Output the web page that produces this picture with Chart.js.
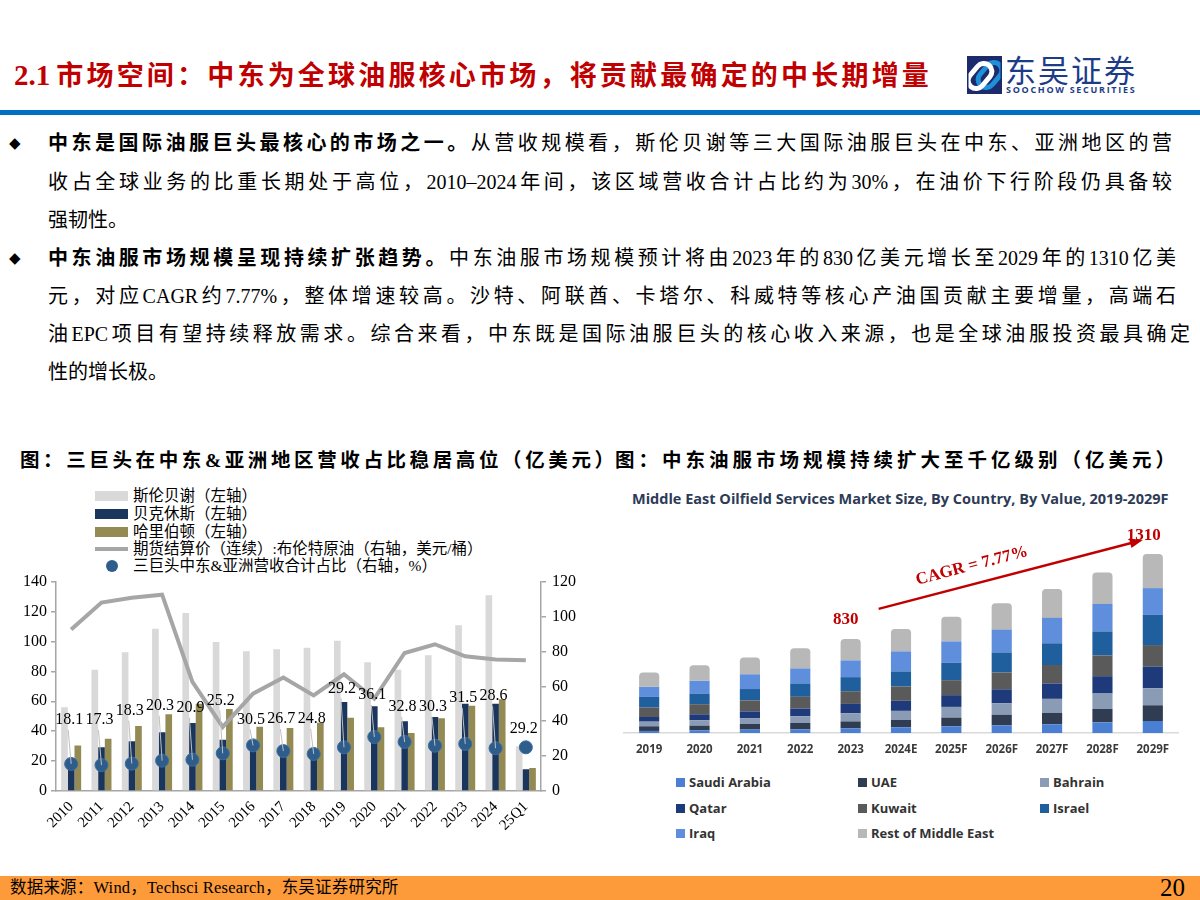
<!DOCTYPE html>
<html><head><meta charset="utf-8">
<script src="https://cdn.jsdelivr.net/npm/chart.js@4.4.1/dist/chart.umd.min.js"></script>
<style>
body{margin:0;width:1200px;height:900px;position:relative;overflow:hidden;background:#fff;font-family:"Liberation Serif","Noto Sans CJK SC",serif;color:#000;}
.abs{position:absolute;}
.title{left:14px;top:55px;color:#c00000;font-weight:bold;font-size:27px;letter-spacing:3.2px;white-space:nowrap;line-height:40px;}
.title .num{font-size:29px;letter-spacing:0;margin-right:6px}
.rule{left:0;top:110px;width:1200px;height:5px;background:#0070c0;}
.ln{position:absolute;left:48px;font-size:20px;line-height:38px;height:38px;overflow:hidden;white-space:nowrap;}
.j{text-align:justify;text-align-last:justify;white-space:normal;}
.b{font-weight:bold}
.dia{position:absolute;left:9px;font-size:15px;line-height:38px;font-family:"DejaVu Sans";}
.cap{position:absolute;top:447px;font-size:19.5px;font-weight:bold;line-height:28px;height:28px;overflow:hidden;text-align:justify;text-align-last:justify;}
.leg{position:absolute;left:95px;font-size:15.5px;line-height:18px;height:18px;white-space:nowrap;}
.leg .sw{position:absolute;left:0;top:4px;width:33px;height:10px;}
.leg .tx{position:absolute;left:38px;top:0;}
.rleg{position:absolute;font-family:"Open Sans",sans-serif;font-weight:bold;font-size:13px;color:#333;white-space:nowrap;line-height:18px}
.rleg .sq{display:inline-block;width:9px;height:9px;margin-right:4px;vertical-align:-0px}
.foot{left:0;top:876px;width:1200px;height:24px;background:#fd9a3a;}
</style></head>
<body>
<div class="abs title"><span class="num">2.1</span>市场空间：中东为全球油服核心市场，将贡献最确定的中长期增量</div>
<svg class="abs" style="left:967px;top:56px" width="35" height="38" viewBox="0 0 35 38">
  <rect x="0" y="0" width="35" height="38" fill="#1b2b6c"/>
  <rect x="15" y="5" width="16" height="28" rx="8" transform="rotate(40 23 19)" stroke="#1e8fd8" stroke-width="5" fill="none"/>
  <rect x="5" y="6" width="16" height="28" rx="8" transform="rotate(40 13 20)" stroke="#ffffff" stroke-width="5" fill="none"/>
  <rect x="0" y="0" width="35" height="38" fill="none" stroke="#1b2b6c" stroke-width="3"/>
</svg>
<div class="abs" style="left:1005px;top:50px;font-family:'Noto Sans CJK SC';font-size:31px;line-height:38px;color:#1d3c88;letter-spacing:2px;white-space:nowrap">东吴证券</div>
<div class="abs" style="left:1006px;top:84px;font-family:'Open Sans';font-weight:bold;font-size:9px;line-height:11px;color:#1d3c88;letter-spacing:1.7px;white-space:nowrap">SOOCHOW SECURITIES</div>
<div class="abs rule"></div>

<div class="dia" style="top:124px">◆</div>
<div class="ln j" style="top:124px;width:1124px"><span class="b">中东是国际油服巨头最核心的市场之一。</span>从营收规模看，斯伦贝谢等三大国际油服巨头在中东、亚洲地区的营</div>
<div class="ln j" style="top:163px;width:1124px">收占全球业务的比重长期处于高位，2010–2024年间，该区域营收合计占比约为30%，在油价下行阶段仍具备较</div>
<div class="ln" style="top:201px">强韧性。</div>
<div class="dia" style="top:239px">◆</div>
<div class="ln j" style="top:239px;width:1128px"><span class="b">中东油服市场规模呈现持续扩张趋势。</span>中东油服市场规模预计将由2023年的830亿美元增长至2029年的1310亿美</div>
<div class="ln j" style="top:277px;width:1128px">元，对应CAGR约7.77%，整体增速较高。沙特、阿联酋、卡塔尔、科威特等核心产油国贡献主要增量，高端石</div>
<div class="ln j" style="top:315px;width:1142px">油EPC项目有望持续释放需求。综合来看，中东既是国际油服巨头的核心收入来源，也是全球油服投资最具确定</div>
<div class="ln" style="top:353px">性的增长极。</div>

<div class="cap" style="left:20px;width:594px">图：三巨头在中东&amp;亚洲地区营收占比稳居高位（亿美元）</div>
<div class="cap" style="left:615px;width:560px">图：中东油服市场规模持续扩大至千亿级别（亿美元）</div>

<div class="leg" style="top:487px"><span class="sw" style="background:#d9d9d9"></span><span class="tx">斯伦贝谢（左轴）</span></div>
<div class="leg" style="top:505px"><span class="sw" style="background:#1b365d"></span><span class="tx">贝克休斯（左轴）</span></div>
<div class="leg" style="top:523px"><span class="sw" style="background:#948a54"></span><span class="tx">哈里伯顿（左轴）</span></div>
<div class="leg" style="top:540px"><span class="sw" style="top:7px;height:4px;background:#a6a6a6"></span><span class="tx">期货结算价（连续）:布伦特原油（右轴，美元/桶）</span></div>
<div class="leg" style="top:557px"><span class="sw" style="left:11px;top:3px;width:12px;height:12px;border-radius:50%;background:#2e5d8c"></span><span class="tx">三巨头中东&amp;亚洲营收合计占比（右轴，%）</span></div>

<div class="abs" style="left:0;top:566px;width:600px;height:276px"><canvas id="c1" width="600" height="276"></canvas></div>

<div class="abs" style="left:632px;top:489px;font-family:'Open Sans',sans-serif;font-weight:bold;font-size:14.5px;color:#2d3b57;white-space:nowrap">Middle East Oilfield Services Market Size, By Country, By Value, 2019-2029F</div>
<div class="abs" style="left:622px;top:510px;width:568px;height:255px"><canvas id="c2" width="568" height="255"></canvas></div>

<div class="rleg" style="left:676px;top:773px"><span class="sq" style="background:#4a7fd4"></span>Saudi Arabia</div>
<div class="rleg" style="left:858px;top:773px"><span class="sq" style="background:#2f3c52"></span>UAE</div>
<div class="rleg" style="left:1040px;top:773px"><span class="sq" style="background:#8a9bb5"></span>Bahrain</div>
<div class="rleg" style="left:676px;top:799px"><span class="sq" style="background:#1f3a7a"></span>Qatar</div>
<div class="rleg" style="left:858px;top:799px"><span class="sq" style="background:#5a5a5a"></span>Kuwait</div>
<div class="rleg" style="left:1040px;top:799px"><span class="sq" style="background:#1f5f9e"></span>Israel</div>
<div class="rleg" style="left:676px;top:824px"><span class="sq" style="background:#5f8fdc"></span>Iraq</div>
<div class="rleg" style="left:858px;top:824px"><span class="sq" style="background:#b8b8b8"></span>Rest of Middle East</div>

<div class="abs foot"></div>
<div class="abs" style="left:10px;top:877px;font-size:16.5px;letter-spacing:0.2px;line-height:22px;white-space:nowrap">数据来源：Wind，Techsci Research，东吴证券研究所</div>
<div class="abs" style="left:1160px;top:873px;font-size:25px;line-height:30px">20</div>

<script>
// ---------- Left chart data ----------
const years = ['2010','2011','2012','2013','2014','2015','2016','2017','2018','2019','2020','2021','2022','2023','2024','25Q1'];
const slb = [56,81,92.7,108.5,119,99.6,93.4,94.7,95.8,100.5,86,81,90.7,110.8,130.8,30];
const bhi = [21,29.3,33.3,39.3,45.5,34.2,31,26,23,59.5,56.6,46.6,49.5,58.4,58.4,14.5];
const hal = [30.5,35,43.5,51.3,58.4,54.8,43,42.1,45.7,49,42.6,38.8,48.6,57,61.3,15.4];
const brent = [92.5,108,110.8,112.5,62.5,36.7,55.8,65,54.8,66.9,52.9,79.1,84.1,77.2,75.3,74.9];
const share = [18.1,17.3,18.3,20.3,20.9,25.2,30.5,26.7,24.8,29.2,36.1,32.8,30.3,31.5,28.6,29.2];
const leftTicks = [0,20,40,60,80,100,120,140];
const rightTicks = [0,20,40,60,80,100,120];
// label lift above each dot (px) - label layout only
const labelLift = [44,45,53,55,52,53,26,32,35,59,42,35,39,46,52,19];

// ---------- Right chart data ----------
const meYears = ['2019','2020','2021','2022','2023','2024E','2025F','2026F','2027F','2028F','2029F'];
const saudi   = [15,20,25,27,34,42,49,56,64,78,88];
const uae     = [34,34,42,47,51,54,64,78,83,98,115];
const bahrain = [34,39,42,49,59,66,78,83,103,113,125];
const qatar   = [34,44,49,56,69,74,86,103,113,127,157];
const kuwait  = [69,74,81,86,93,105,110,123,135,152,159];
const israel  = [78,78,83,98,103,110,127,147,159,176,221];
const iraq    = [74,93,108,110,123,147,157,167,186,201,196];
const rest    = [105,115,123,147,157,164,181,194,211,230,250];
const startLabel = '830', endLabel = '1310', cagrText = 'CAGR = 7.77%';
const startIdx = 4, endIdx = 10;

const serif = '"Liberation Serif","Noto Sans CJK SC",serif';

const dotLabels = {
  id:'dotLabels',
  afterDatasetsDraw(chart){
    const meta = chart.getDatasetMeta(4);
    const ctx = chart.ctx;
    ctx.save();
    ctx.font = '16px ' + serif;
    ctx.textAlign = 'center';
    ctx.textBaseline = 'middle';
    meta.data.forEach((pt,i)=>{
      const lift = labelLift[i];
      const lx = pt.x - 2, ly = pt.y - lift;
      if (lift > 24){
        ctx.strokeStyle = '#bfbfbf';
        ctx.lineWidth = 1;
        ctx.beginPath();
        ctx.moveTo(lx - 1, ly + 10);
        ctx.lineTo(pt.x, pt.y);
        ctx.stroke();
      }
      ctx.fillStyle = '#000';
      ctx.fillText(share[i].toFixed(1), lx, ly);
    });
    ctx.restore();
  }
};

new Chart(document.getElementById('c1'), {
  data:{
    labels: years,
    datasets:[
      {type:'bar', label:'斯伦贝谢（左轴）', data:slb, backgroundColor:'#d9d9d9', yAxisID:'y', order:3, categoryPercentage:0.66, barPercentage:1},
      {type:'bar', label:'贝克休斯（左轴）', data:bhi, backgroundColor:'#1b365d', yAxisID:'y', order:3, categoryPercentage:0.66, barPercentage:1},
      {type:'bar', label:'哈里伯顿（左轴）', data:hal, backgroundColor:'#948a54', yAxisID:'y', order:3, categoryPercentage:0.66, barPercentage:1},
      {type:'line', label:'期货结算价（连续）:布伦特原油（右轴，美元/桶）', data:brent, borderColor:'#a6a6a6', borderWidth:4, pointRadius:0, tension:0, yAxisID:'y1', order:1},
      {type:'line', label:'三巨头中东&亚洲营收合计占比（右轴，%）', data:share, showLine:false, pointRadius:6.5, pointBackgroundColor:'#2e5d8c', pointBorderColor:'#3a6d9e', pointBorderWidth:1, yAxisID:'y', order:0}
    ]
  },
  options:{
    responsive:false, animation:false, devicePixelRatio:1,
    layout:{padding:{top:3,left:0,right:0,bottom:0}},
    plugins:{legend:{display:false}, tooltip:{enabled:false}},
    scales:{
      x:{
        grid:{display:false, drawTicks:false},
        border:{display:true, color:'#a6a6a6', width:1.5},
        ticks:{font:{family:serif,size:15}, color:'#000', minRotation:45, maxRotation:45, padding:7, autoSkip:false},
        afterFit(s){ s.height = 51; }
      },
      y:{
        position:'left', min:0, max:140,
        afterBuildTicks(s){ s.ticks = leftTicks.map(v=>({value:v})); },
        grid:{display:true, drawOnChartArea:false, drawTicks:true, tickLength:5, color:'#a6a6a6', lineWidth:1.5},
        border:{display:true, color:'#a6a6a6', width:1.5},
        ticks:{font:{family:serif,size:16}, color:'#000', padding:4},
        afterFit(s){ s.width = 56; }
      },
      y1:{
        position:'right', min:0, max:120,
        afterBuildTicks(s){ s.ticks = rightTicks.map(v=>({value:v})); },
        grid:{display:true, drawOnChartArea:false, drawTicks:true, tickLength:5, color:'#a6a6a6', lineWidth:1.5},
        border:{display:true, color:'#a6a6a6', width:1.5},
        ticks:{font:{family:serif,size:16}, color:'#000', padding:6},
        afterFit(s){ s.width = 59; }
      }
    }
  },
  plugins:[dotLabels]
});

const annot = {
  id:'annot',
  afterDatasetsDraw(chart){
    const ctx = chart.ctx, xs = chart.scales.x, ys = chart.scales.y;
    const total = i => [saudi,uae,bahrain,qatar,kuwait,israel,iraq,rest].reduce((a,arr)=>a+arr[i],0);
    const x0 = xs.getPixelForValue(startIdx), y0 = ys.getPixelForValue(total(startIdx));
    const x1 = xs.getPixelForValue(endIdx), y1 = ys.getPixelForValue(total(endIdx));
    ctx.save();
    ctx.fillStyle = '#c00000';
    ctx.font = 'bold 17px ' + serif;
    ctx.textAlign = 'center'; ctx.textBaseline = 'middle';
    ctx.fillText(startLabel, x0 - 5, y0 - 19);
    ctx.fillText(endLabel, x1 - 9, y1 - 18);
    const ax0 = x0 + 28, ay0 = y0 - 30, ax1 = x1 - 10, ay1 = y1 - 14;
    ctx.strokeStyle = '#c00000'; ctx.lineWidth = 2.5;
    const ang = Math.atan2(ay1 - ay0, ax1 - ax0);
    ctx.beginPath(); ctx.moveTo(ax0, ay0);
    ctx.lineTo(ax1 - 8*Math.cos(ang), ay1 - 8*Math.sin(ang)); ctx.stroke();
    ctx.beginPath();
    ctx.moveTo(ax1, ay1);
    ctx.lineTo(ax1 - 13*Math.cos(ang) + 5*Math.sin(ang), ay1 - 13*Math.sin(ang) - 5*Math.cos(ang));
    ctx.lineTo(ax1 - 13*Math.cos(ang) - 5*Math.sin(ang), ay1 - 13*Math.sin(ang) + 5*Math.cos(ang));
    ctx.closePath(); ctx.fill();
    const mx = ax0 + (ax1-ax0)*0.37, my = ay0 + (ay1-ay0)*0.37;
    ctx.translate(mx + 18*Math.sin(ang), my - 18*Math.cos(ang));
    ctx.rotate(ang);
    ctx.fillText(cagrText, 0, 0);
    ctx.restore();
  }
};

const seg = (label,data,color,extra)=>Object.assign({label,data,backgroundColor:color,stack:'s',barPercentage:0.4,categoryPercentage:1},extra||{});
new Chart(document.getElementById('c2'), {
  type:'bar',
  data:{
    labels: meYears,
    datasets:[
      seg('Saudi Arabia', saudi, '#4a7fd4'),
      seg('UAE', uae, '#2f3c52'),
      seg('Bahrain', bahrain, '#8a9bb5'),
      seg('Qatar', qatar, '#1f3a7a'),
      seg('Kuwait', kuwait, '#5a5a5a'),
      seg('Israel', israel, '#1f5f9e'),
      seg('Iraq', iraq, '#5f8fdc'),
      seg('Rest of Middle East', rest, '#b8b8b8', {borderRadius:{topLeft:4,topRight:4,bottomLeft:0,bottomRight:0}, borderSkipped:false})
    ]
  },
  options:{
    responsive:false, animation:false, devicePixelRatio:1,
    layout:{padding:{top:0,left:2,right:12,bottom:0}},
    plugins:{legend:{display:false}, tooltip:{enabled:false}},
    scales:{
      x:{stacked:true, grid:{display:false, drawTicks:false}, border:{display:true,color:'#d9d9d9',width:1.5},
         ticks:{font:{family:'"Open Sans",sans-serif',size:11.5,weight:'bold'}, color:'#3a3a3a', padding:10},
         afterFit(s){ s.height = 32; }},
      y:{stacked:true, display:false, min:0, max:1633}
    }
  },
  plugins:[annot]
});
</script>
</body></html>
